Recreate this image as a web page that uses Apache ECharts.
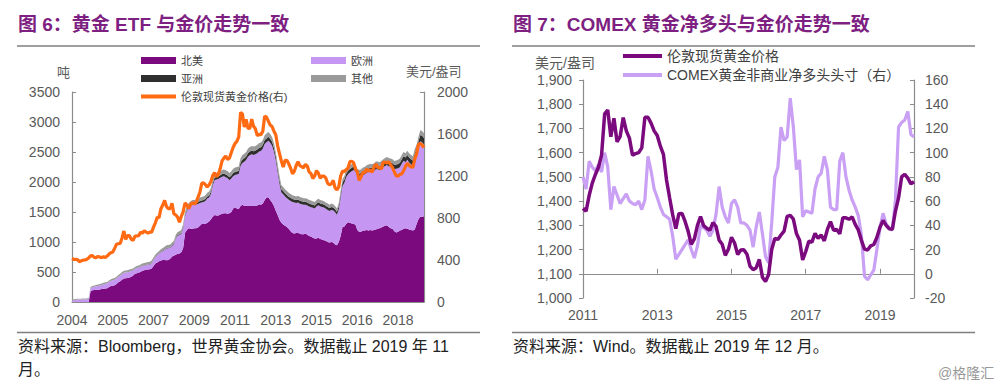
<!DOCTYPE html>
<html><head><meta charset="utf-8">
<script src="https://cdn.jsdelivr.net/npm/echarts/dist/echarts.min.js"></script>
<style>html,body{margin:0;padding:0;background:#fff}#c{width:1000px;height:388px}</style>
</head><body><div id="c"></div>
<script>
// ---------- Chart 6: gold ETF holdings (tonnes) & London spot gold, monthly 2004-01 .. 2019-11
const start6 = [2004, 1], end6 = [2019, 11];
const na6 = [
0,0,0,0,0,0,0,0,0,0,180,195,
200,205,205,210,215,220,225,230,250,265,270,280,
300,330,345,370,390,395,400,410,420,440,470,480,
490,500,520,530,540,540,545,560,600,640,660,680,
690,700,700,695,700,720,760,770,790,800,810,830,
900,1150,1200,1230,1220,1220,1230,1230,1240,1270,1300,1300,
1300,1320,1340,1380,1420,1450,1440,1440,1460,1470,1480,1480,
1470,1480,1500,1560,1580,1560,1550,1600,1620,1600,1600,1610,
1600,1610,1600,1600,1610,1630,1620,1640,1700,1740,1745,1700,
1660,1600,1520,1450,1370,1320,1290,1270,1250,1220,1180,1150,
1140,1150,1150,1140,1130,1130,1140,1120,1100,1090,1070,1060,
1060,1070,1050,1040,1030,1020,1000,990,1000,990,960,945,
1000,1100,1250,1260,1300,1330,1320,1310,1300,1290,1200,1170,
1170,1190,1190,1200,1190,1200,1190,1200,1210,1220,1230,1240,
1260,1270,1280,1250,1230,1220,1180,1160,1170,1190,1200,1220,
1230,1220,1210,1200,1190,1210,1300,1380,1420,1420,1430];
const eu6 = [
25,30,35,40,40,40,45,45,45,50,50,50,
53,57,61,65,69,73,78,77,82,86,91,90,
90,89,94,98,98,97,97,96,96,85,80,85,
81,86,79,79,78,82,82,86,95,104,114,123,
141,150,168,197,195,184,174,192,270,305,306,304,
331,278,315,342,380,398,387,395,393,382,360,368,
385,403,401,419,527,584,603,611,609,618,616,599,
593,551,559,537,536,563,582,669,698,737,766,812,
847,853,851,861,869,879,897,917,935,922,942,954,
946,908,842,716,600,504,504,489,481,483,505,517,
518,498,509,499,500,490,480,490,490,490,501,498,
532,542,543,543,544,534,535,525,535,535,536,508,
543,639,685,723,781,799,838,868,898,888,899,909,
919,927,937,956,975,974,984,982,1002,991,970,980,
989,997,1003,1014,1023,1022,1031,1060,1058,1057,1105,1134,
1101,1149,1116,1094,1081,1176,1150,1194,1260,1244,1194];
const asia6 = [
0,0,0,0,0,0,0,0,0,0,0,0,
0,0,0,0,0,0,0,0,0,0,0,0,
0,0,0,0,0,0,0,0,0,0,0,0,
3,3,4,4,4,5,5,5,6,6,6,7,
8,8,9,9,10,10,10,11,12,14,15,16,
18,20,22,24,25,26,27,28,29,30,31,32,
34,35,36,37,38,40,41,42,43,44,45,46,
47,48,50,51,52,54,55,57,58,58,59,60,
60,61,62,62,63,63,64,64,65,65,66,66,
65,64,62,60,58,56,55,54,53,52,51,50,
50,50,50,50,50,50,50,50,50,50,50,50,
50,50,50,50,50,50,50,50,50,50,50,50,
52,54,56,57,58,59,60,60,60,60,60,60,
60,61,61,62,62,63,63,64,64,65,65,65,
66,67,68,69,70,70,71,72,73,74,75,76,
78,80,82,84,86,90,95,100,105,108,110];
const other6 = [
15,15,15,15,15,15,15,15,15,15,20,20,
22,23,24,25,26,27,27,28,28,29,29,30,
30,31,31,32,32,33,33,34,34,35,35,35,
36,36,37,37,38,38,38,39,39,40,40,40,
41,42,43,44,45,46,46,47,48,48,49,50,
51,52,53,54,55,56,56,57,58,58,59,60,
61,62,63,64,65,66,66,67,68,68,69,70,
70,71,71,72,72,73,73,74,74,75,75,75,
76,76,77,77,78,78,79,79,80,80,80,80,
79,78,76,74,72,70,68,67,66,65,64,63,
62,62,61,61,60,60,60,60,60,60,59,59,
58,58,57,57,56,56,55,55,55,55,54,54,
55,57,59,60,61,62,62,62,62,62,61,61,
61,62,62,62,63,63,63,64,64,64,65,65,
65,66,66,67,67,68,68,68,69,69,70,70,
71,71,72,72,73,74,75,76,77,78,78];
const gold6 = [
414,405,406,404,384,392,398,400,406,420,439,442,
424,423,434,429,422,431,424,438,456,470,476,510,
549,555,557,610,676,596,633,632,598,586,628,629,
631,665,655,679,667,655,665,665,713,754,806,803,
889,923,968,909,888,890,940,839,830,807,760,816,
859,943,925,890,928,946,934,949,996,1043,1128,1135,
1118,1095,1114,1149,1205,1233,1193,1216,1271,1343,1370,1391,
1356,1372,1424,1474,1510,1529,1572,1805,1790,1666,1739,1652,
1656,1742,1673,1650,1585,1596,1594,1626,1770,1760,1722,1685,
1671,1627,1593,1487,1414,1343,1286,1348,1349,1316,1275,1221,
1244,1300,1336,1299,1288,1279,1311,1296,1239,1222,1176,1201,
1251,1227,1179,1198,1199,1181,1131,1117,1125,1159,1086,1068,
1097,1200,1246,1242,1260,1276,1337,1341,1326,1266,1238,1157,
1192,1234,1231,1267,1246,1260,1236,1283,1315,1280,1283,1265,
1331,1331,1325,1335,1304,1281,1238,1202,1198,1215,1221,1250,
1292,1320,1300,1286,1284,1359,1413,1500,1511,1495,1471];

// ---------- Chart 7: London spot gold (USD/oz) & COMEX non-commercial net long, monthly 2011-01 .. 2019-12
const start7 = [2011, 1], end7 = [2019, 12];
const gold7 = [
1370,1358,1424,1474,1510,1540,1590,1760,1776,1666,1742,1645,
1666,1745,1690,1660,1590,1596,1600,1620,1746,1746,1722,1690,
1671,1627,1593,1487,1414,1343,1286,1348,1349,1316,1275,1221,
1244,1300,1336,1299,1288,1279,1311,1296,1239,1222,1176,1201,
1251,1227,1179,1198,1199,1181,1131,1117,1125,1159,1086,1068,
1097,1200,1246,1242,1260,1276,1337,1341,1326,1266,1238,1157,
1192,1234,1231,1267,1246,1260,1236,1283,1315,1280,1283,1265,
1331,1331,1325,1335,1304,1281,1238,1202,1198,1215,1221,1250,
1292,1320,1300,1286,1284,1359,1413,1500,1511,1495,1471,1480];
const comex7 = [
80,70,93,88,85,90,84,100,88,53,72,65,
58,62,66,60,58,57,60,53,61,97,85,70,
63,55,49,47,45,31,12,16,20,24,28,20,
13,23,40,38,36,31,36,49,72,55,47,42,
58,61,55,42,42,40,36,22,39,51,33,14,
9,42,80,88,121,110,113,145,121,86,94,47,
52,51,50,70,80,83,97,86,55,53,53,93,
100,80,69,61,55,48,32,-2,-5,-1,3,20,
38,50,41,38,36,61,121,125,127,134,115,113];

// ---------- text
const title6 = '图 6：黄金 ETF 与金价走势一致';
const title7 = '图 7：COMEX 黄金净多头与金价走势一致';
const src6a = '资料来源：Bloomberg，世界黄金协会。数据截止 2019 年 11';
const src6b = '月。';
const src7 = '资料来源：Wind。数据截止 2019 年 12 月。';
const names6 = ['北美', '欧洲', '亚洲', '其他', '伦敦现货黄金价格(右)'];
const names7 = ['伦敦现货黄金价格', 'COMEX黄金非商业净多头头寸（右）'];

function months(s, e) {
  const out = [];
  for (let y = s[0], m = s[1]; y < e[0] || (y === e[0] && m <= e[1]); ) {
    out.push(y + '-' + (m < 10 ? '0' + m : m));
    m++; if (m > 12) { m = 1; y++; }
  }
  return out;
}
const cats6 = months(start6, end6);
const cats7 = months(start7, end7);

const FONT = '"Liberation Sans","Noto Sans CJK SC",sans-serif';
const C_NA = '#7B0A7F', C_EU = '#C597F2', C_AS = '#2f2f2f', C_OT = '#9a9a9a', C_AU = '#FF6A13';
const C_D = '#7B0A7F', C_L = '#C9A0F4';
const AX = '#8c8c8c', LBL = '#595959';

const chart = echarts.init(document.getElementById('c'), null, {renderer: 'svg'});
const comma = v => String(v).replace(/\B(?=(\d{3})+(?!\d))/g, ',');
const plain = v => String(v);
function lg(name, left, top, h, fs, extra) {
  return Object.assign({data: [name], left: left, top: top, itemWidth: 35, itemHeight: h, icon: 'rect',
    itemGap: 5, selectedMode: false, padding: 0,
    textStyle: {fontSize: fs, color: '#404040', fontFamily: FONT}}, extra || {});
}
function area(name, data, color) {
  return {name: name, type: 'line', stack: 'etf', data: data, xAxisIndex: 0, yAxisIndex: 0,
    symbol: 'none', color: color, lineStyle: {width: 0}, itemStyle: {color: color},
    areaStyle: {color: color, opacity: 1}};
}
const option = {
  animation: false,
  textStyle: {fontFamily: FONT},
  grid: [
    {left: 72, top: 92, width: 352, height: 210},
    {left: 583, top: 80, width: 331, height: 218}
  ],
  legend: [
    lg(names6[0], 141, 55, 7, 11),
    lg(names6[2], 141, 73, 7, 11),
    lg(names6[4], 141, 91, 4, 11),
    lg(names6[1], 311, 55, 7, 11),
    lg(names6[3], 311, 73, 7, 11),
    lg(names7[0], 623, 49, 4, 14, {itemWidth: 39, itemGap: 2}),
    lg(names7[1], 623, 68, 4, 14, {itemWidth: 39, itemGap: 2})
  ],
  xAxis: [
    {type: 'category', gridIndex: 0, data: cats6, boundaryGap: false,
      axisLine: {lineStyle: {color: AX, width: 1.2}}, axisTick: {show: false},
      axisLabel: {interval: 21, formatter: v => v.slice(0, 4), color: LBL, fontSize: 14, margin: 11}},
    {type: 'category', gridIndex: 1, data: cats7, boundaryGap: false,
      axisLine: {lineStyle: {color: AX, width: 1.2}},
      axisTick: {inside: true, interval: 23, length: 5, lineStyle: {color: AX}},
      axisLabel: {interval: 23, formatter: v => v.slice(0, 4), color: LBL, fontSize: 14, margin: 10}}
  ],
  yAxis: [
    {type: 'value', gridIndex: 0, min: 0, max: 3500, interval: 500, splitLine: {show: false},
      axisLine: {show: true, lineStyle: {color: AX, width: 1.2}},
      axisTick: {show: true, inside: true, length: 4, lineStyle: {color: AX}},
      axisLabel: {color: LBL, fontSize: 14, margin: 12, formatter: plain}},
    {type: 'value', gridIndex: 0, position: 'right', min: 0, max: 2000, interval: 400, splitLine: {show: false},
      axisLine: {show: true, lineStyle: {color: AX, width: 1.2}},
      axisTick: {show: true, inside: true, length: 4, lineStyle: {color: AX}},
      axisLabel: {color: LBL, fontSize: 14, margin: 13, formatter: plain}},
    {type: 'value', gridIndex: 1, min: 1000, max: 1900, interval: 100, splitLine: {show: false},
      axisLine: {show: true, lineStyle: {color: AX, width: 1.2}},
      axisTick: {show: true, length: 4, lineStyle: {color: AX}},
      axisLabel: {color: LBL, fontSize: 14, margin: 11, formatter: comma}},
    {type: 'value', gridIndex: 1, position: 'right', min: -20, max: 160, interval: 20, splitLine: {show: false},
      axisLine: {show: true, lineStyle: {color: AX, width: 1.2}},
      axisTick: {show: true, inside: true, length: 4, lineStyle: {color: AX}},
      axisLabel: {color: LBL, fontSize: 14, margin: 11, formatter: plain}}
  ],
  series: [
    area(names6[0], na6, C_NA),
    area(names6[1], eu6, C_EU),
    area(names6[2], asia6, C_AS),
    area(names6[3], other6, C_OT),
    {name: names6[4], type: 'line', data: gold6, xAxisIndex: 0, yAxisIndex: 1, symbol: 'none', z: 5,
      color: C_AU, lineStyle: {color: C_AU, width: 3.2}, itemStyle: {color: C_AU}},
    {name: names7[1], type: 'line', data: comex7, xAxisIndex: 1, yAxisIndex: 3, symbol: 'none', z: 3,
      color: C_L, lineStyle: {color: C_L, width: 3.2}, itemStyle: {color: C_L}},
    {name: names7[0], type: 'line', data: gold7, xAxisIndex: 1, yAxisIndex: 2, symbol: 'none', z: 4,
      color: C_D, lineStyle: {color: C_D, width: 3.5}, itemStyle: {color: C_D}}
  ],
  graphic: [
    {type: 'text', left: 18, top: 15, style: {text: title6, fill: '#7E1F82', font: 'bold 19px ' + FONT}},
    {type: 'text', left: 513, top: 15, style: {text: title7, fill: '#7E1F82', font: 'bold 19px ' + FONT}},
    {type: 'line', shape: {x1: 17, y1: 46, x2: 480, y2: 46}, style: {stroke: '#7f7f7f', lineWidth: 1.5}},
    {type: 'line', shape: {x1: 512, y1: 46, x2: 975, y2: 46}, style: {stroke: '#7f7f7f', lineWidth: 1.5}},
    {type: 'line', shape: {x1: 17, y1: 332.5, x2: 480, y2: 332.5}, style: {stroke: '#7f7f7f', lineWidth: 1.5}},
    {type: 'line', shape: {x1: 512, y1: 332.5, x2: 975, y2: 332.5}, style: {stroke: '#7f7f7f', lineWidth: 1.5}},
    {type: 'text', left: 18, top: 338, style: {text: src6a, fill: '#222', font: '16px ' + FONT}},
    {type: 'text', left: 18, top: 361, style: {text: src6b, fill: '#222', font: '16px ' + FONT}},
    {type: 'text', left: 513, top: 338, style: {text: src7, fill: '#222', font: '16px ' + FONT}},
    {type: 'text', left: 938, top: 366, style: {text: '@格隆汇', fill: '#999', font: '14px ' + FONT}},
    {type: 'text', left: 57, top: 66, style: {text: '吨', fill: LBL, font: '13px ' + FONT}},
    {type: 'text', left: 406, top: 65, style: {text: '美元/盎司', fill: LBL, font: '13px ' + FONT}},
    {type: 'text', left: 535, top: 56, style: {text: '美元/盎司', fill: LBL, font: '14px ' + FONT}}
  ]
};
chart.setOption(option);
</script></body></html>
